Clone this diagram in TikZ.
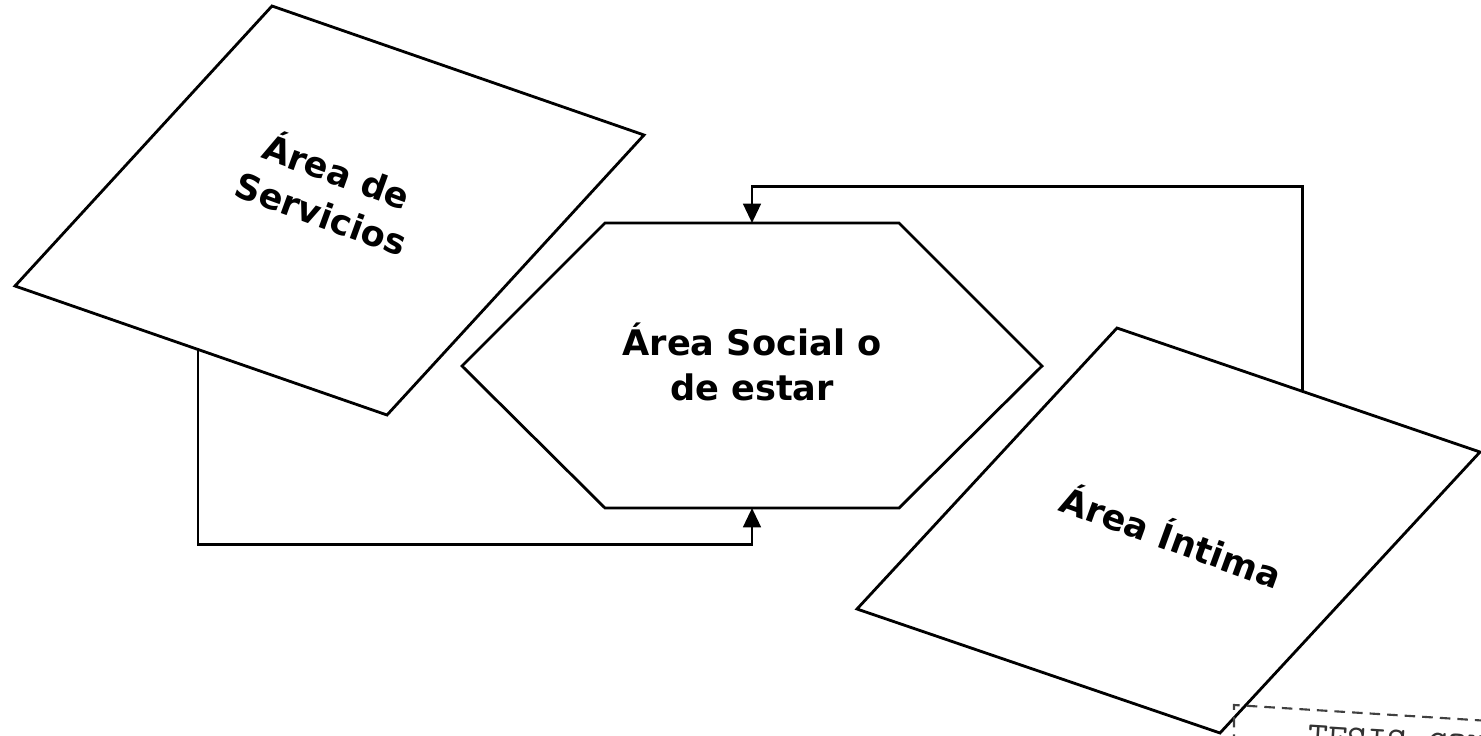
\documentclass[tikz,border=0pt]{standalone}
\usepackage{fontspec}
\setmainfont{DejaVu Sans}
\usetikzlibrary{arrows.meta,calc}

\begin{document}
\begin{tikzpicture}[x=0.01cm, y=-0.01cm,
  zona/.style={draw, line width=0.8pt, line join=miter},
  rotulo/.style={font=\bfseries\fontsize{10}{12.8}\selectfont,
                 align=center, inner sep=0pt},
  flujo/.style={draw, line width=0.8pt,
                -{Triangle[length=5.5pt,width=5pt]}},
  sello/.style={draw, densely dashed, line width=0.6pt, black!75},
]
\useasboundingbox (0,0) rectangle (1481,736);
\clip (0,0) rectangle (1481,736);

\coordinate (s1) at (272,6);
\coordinate (s2) at (644,135);
\coordinate (s3) at (387,415);
\coordinate (s4) at (15,286);
\draw[zona] (s1) -- (s2) -- (s3) -- (s4) -- cycle;
\node[rotulo, rotate=-20] (servicios) at (330,190) {Área de\\Servicios};

\coordinate (h1) at (605,223);
\coordinate (h2) at (899,223);
\coordinate (h3) at (1042,366);
\coordinate (h4) at (899,508);
\coordinate (h5) at (605,508);
\coordinate (h6) at (462,366);
\draw[zona] (h1) -- (h2) -- (h3) -- (h4) -- (h5) -- (h6) -- cycle;
\coordinate (soc-top) at (752,223);
\coordinate (soc-bot) at (752,508);
\node[rotulo] (social) at (752,362) {Área Social o\\de estar};

\coordinate (i1) at (1117,328);
\coordinate (i2) at (1480,452);
\coordinate (i3) at (1220,733);
\coordinate (i4) at (857,609);
\draw[zona] (i1) -- (i2) -- (i3) -- (i4) -- cycle;
\node[rotulo, rotate=-20] (intima) at (1172,535) {Área Íntima};

\coordinate (int-pie) at ($(i1)!0.51!(i2)$);
\coordinate (svc-pie) at ($(s4)!0.492!(s3)$);
\draw[flujo] (int-pie) -- ++(0,-205) -| (soc-top);
\draw[flujo] (svc-pie) -- ++(0,195) -| (soc-bot);

\draw[sello] (1234,745) -- (1234,705) -- (1490,721);
\node[anchor=north west, rotate=-3.5, inner sep=0pt, text=black!80,
      font=\ttfamily\fontsize{11}{11}\selectfont] (marca) at (1308,724) {TESIS CON};
\end{tikzpicture}
\end{document}
